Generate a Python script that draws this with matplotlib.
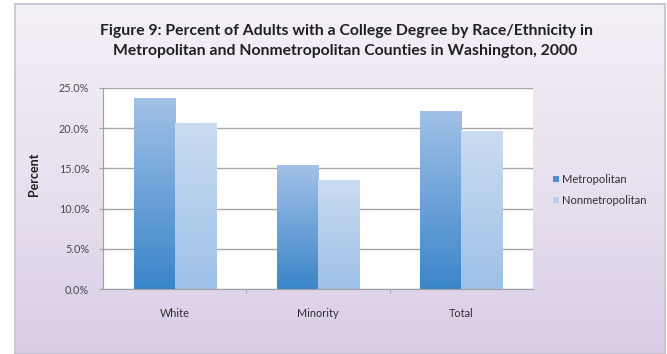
import numpy as np
import matplotlib
matplotlib.use("Agg")
import matplotlib.pyplot as plt
from matplotlib.colors import LinearSegmentedColormap
from matplotlib.patches import Patch

categories = ["White", "Minority", "Total"]
metro = [23.8, 15.4, 22.2]
nonmetro = [20.7, 13.6, 19.7]
series_names = ["Metropolitan", "Nonmetropolitan"]
yticks = [0, 5, 10, 15, 20, 25]
ytick_labels = ["0.0%", "5.0%", "10.0%", "15.0%", "20.0%", "25.0%"]

W, H = 667, 354
fig = plt.figure(figsize=(W / 100, H / 100), dpi=100)
fig.patch.set_facecolor("white")

# background frame with lavender gradient
bg = fig.add_axes([15 / W, 0, 650 / W, 1 - 4 / H], zorder=0)
grad = np.linspace(0, 1, 256).reshape(-1, 1)
bg_cmap = LinearSegmentedColormap.from_list("bg", ["#f4f0f7", "#e9e1ef", "#d9cde6"])
bg.imshow(grad, aspect="auto", cmap=bg_cmap, extent=[0, 1, 0, 1], origin="upper")
bg.set_xlim(0, 1); bg.set_ylim(0, 1)
for s in bg.spines.values():
    s.set_color("#c8c0d0"); s.set_linewidth(1.2)
bg.set_xticks([]); bg.set_yticks([])

ax = fig.add_axes([103 / W, 1 - 289 / H, 430 / W, 201 / H], zorder=1)
ax.set_facecolor("white")
x = np.arange(len(categories))
bw = 0.287
b1 = ax.bar(x - bw / 2, metro, bw, color="#5f9bd6", zorder=2, label=series_names[0])
b2 = ax.bar(x + bw / 2, nonmetro, bw, color="#b2cdeb", zorder=2, label=series_names[1])

cm1 = LinearSegmentedColormap.from_list("m", ["#3a85c9", "#a2c1e7"])
cm2 = LinearSegmentedColormap.from_list("n", ["#9ec1e8", "#cadcf1"])
g = np.linspace(0, 1, 256).reshape(-1, 1)
for bars, cmap in ((b1, cm1), (b2, cm2)):
    for r in bars:
        x0, y0 = r.get_x(), r.get_y()
        im = ax.imshow(g, cmap=cmap, origin="lower", aspect="auto",
                       extent=[x0, x0 + r.get_width(), y0, y0 + r.get_height()], zorder=2)
        im.set_clip_path(r)
        r.set_facecolor("none")
        r.set_edgecolor("none")

ax.set_xlim(-0.5, 2.5)
ax.set_ylim(0, 25)
ax.set_yticks(yticks)
ax.set_yticklabels(ytick_labels, fontsize=7.8, color="#4a4a4a", family="Lato")
ax.set_xticks(x)
ax.set_xticklabels(categories, fontsize=7.8, color="#303030", family="Lato")
ax.tick_params(axis="x", length=0, pad=14)
ax.tick_params(axis="y", length=3, color="#a0a0a0", pad=7)
ax.set_xticks([0.5, 1.5], minor=True)
ax.tick_params(axis="x", which="minor", length=3, color="#a0a0a0")
ax.grid(axis="y", color="#a8a8a8", linewidth=1, zorder=1)
for s in ["top", "right"]:
    ax.spines[s].set_visible(False)
ax.spines["left"].set_color("#a0a0a0")
ax.spines["bottom"].set_color("#a0a0a0")

fig.text(34 / W, 1 - 174 / H, "Percent", rotation=90, fontsize=9, fontweight="bold",
         family="Lato", color="#202020", ha="center", va="center")

fig.text(346 / W, 1 - 31 / H, "Figure 9: Percent of Adults with a College Degree by Race/Ethnicity in",
         ha="center", va="center", fontsize=11.3, fontweight="bold", family="Lato", color="#202020")
fig.text(345 / W, 1 - 51 / H, "Metropolitan and Nonmetropolitan Counties in Washington, 2000",
         ha="center", va="center", fontsize=11.3, fontweight="bold", family="Lato", color="#202020")

handles = [Patch(facecolor="#4f8fd0"), Patch(facecolor="#b8d0ec")]
leg = fig.legend(handles, series_names, loc="center left", bbox_to_anchor=(543 / W, 1 - 190 / H),
                 frameon=False, handlelength=0.55, handleheight=0.55,
                 handletextpad=0.3, labelspacing=0.9, prop={"family": "Lato", "size": 8})
for t in leg.get_texts():
    t.set_color("#303030")

fig.savefig("out.png", dpi=100)
